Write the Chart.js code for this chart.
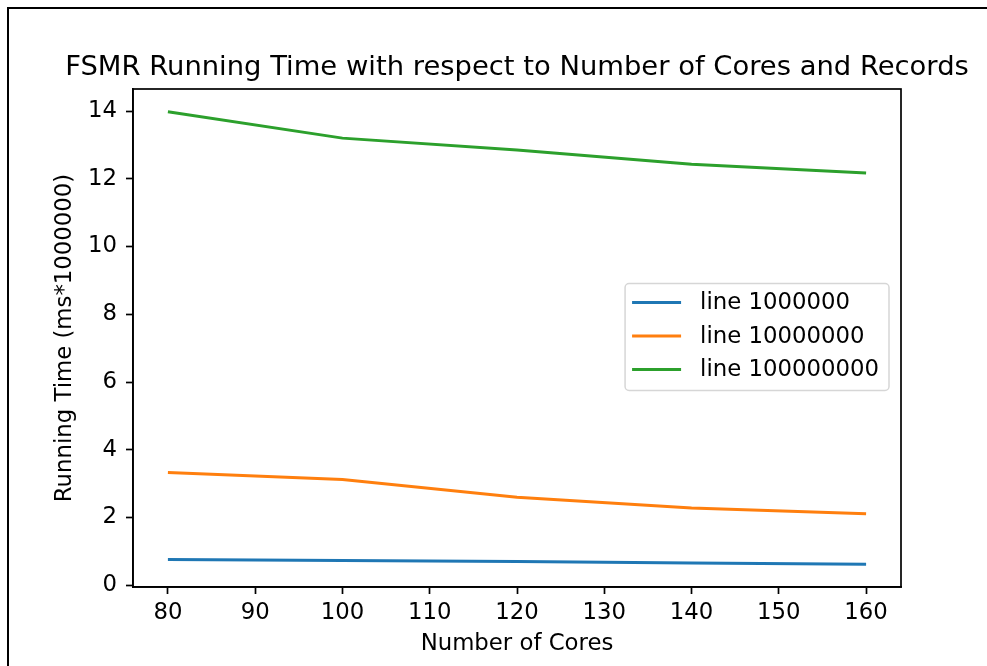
<!DOCTYPE html>
<html>
<head>
<meta charset="utf-8">
<script src="https://cdn.jsdelivr.net/npm/chart.js@4"></script>
<style>
  html, body { margin: 0; padding: 0; background: #fff; }
  #wrap { position: relative; width: 987px; height: 666px; overflow: hidden; }
  #frame { position: absolute; left: 7px; top: 7px; width: 1200px; height: 800px;
           border-left: 2px solid #000; border-top: 2px solid #000; }
  canvas { position: absolute; left: 0; top: 0; }
</style>
</head>
<body>
<div id="wrap">
  <div id="frame"></div>
  <canvas id="chart"></canvas>
</div>
<script>
// number of cores on x axis
const cores = [80, 100, 120, 140, 160];

// running time (ms*1000000) per record count
const time1M = [0.76, 0.73, 0.70, 0.66, 0.62];
const time10M = [3.33, 3.12, 2.60, 2.28, 2.11];
const time100M = [13.98, 13.20, 12.85, 12.43, 12.17];

const seriesLabels = ["line 1000000", "line 10000000", "line 100000000"];
const seriesColors = ["#1f77b4", "#ff7f0e", "#2ca02c"];

const xTicks = [80, 90, 100, 110, 120, 130, 140, 150, 160];
const yTicks = [0, 2, 4, 6, 8, 10, 12, 14];

const FONT = "'DejaVu Sans', sans-serif";
const LABEL_SIZE = 22.8;

// title centered over the plot area, like matplotlib
const titlePlugin = {
  id: "axesTitle",
  afterDraw(chart) {
    const { ctx, chartArea } = chart;
    ctx.save();
    ctx.font = "27.4px " + FONT;
    ctx.fillStyle = "#000";
    ctx.textAlign = "center";
    ctx.textBaseline = "alphabetic";
    ctx.fillText("FSMR Running Time with respect to Number of Cores and Records",
      (chartArea.left + chartArea.right) / 2, 75);
    ctx.restore();
  }
};

// box around plot area (top and right spines)
const framePlugin = {
  id: "axesFrame",
  afterDatasetsDraw(chart) {
    const { ctx, chartArea } = chart;
    ctx.save();
    ctx.strokeStyle = "#000";
    ctx.lineWidth = 1.7;
    ctx.strokeRect(chartArea.left, chartArea.top, chartArea.right - chartArea.left, chartArea.bottom - chartArea.top);
    ctx.restore();
  }
};

// matplotlib style legend at center right inside the axes
const legendPlugin = {
  id: "innerLegend",
  afterDraw(chart) {
    const { ctx, chartArea } = chart;
    ctx.save();
    ctx.font = LABEL_SIZE + "px " + FONT;
    const items = chart.data.datasets;
    let maxW = 0;
    items.forEach(ds => { maxW = Math.max(maxW, ctx.measureText(ds.label).width); });
    const rowH = 33.5;
    const w = 7 + 49 + 19 + maxW + 10;
    const h = 107;
    const right = chartArea.right - 12;
    const left = right - w;
    const top = (chartArea.top + chartArea.bottom) / 2 - h / 2 - 1;

    const r = 4;
    ctx.beginPath();
    ctx.moveTo(left + r, top);
    ctx.arcTo(left + w, top, left + w, top + h, r);
    ctx.arcTo(left + w, top + h, left, top + h, r);
    ctx.arcTo(left, top + h, left, top, r);
    ctx.arcTo(left, top, left + w, top, r);
    ctx.closePath();
    ctx.fillStyle = "rgba(255,255,255,0.8)";
    ctx.fill();
    ctx.strokeStyle = "#d6d6d6";
    ctx.lineWidth = 1.5;
    ctx.stroke();

    ctx.textAlign = "left";
    ctx.textBaseline = "middle";
    items.forEach((ds, i) => {
      const cy = top + 19 + i * rowH;
      ctx.strokeStyle = ds.borderColor;
      ctx.lineWidth = 3;
      ctx.beginPath();
      ctx.moveTo(left + 7, cy);
      ctx.lineTo(left + 56, cy);
      ctx.stroke();
      ctx.fillStyle = "#000";
      ctx.fillText(ds.label, left + 75, cy + 1);
    });
    ctx.restore();
  }
};

const seriesData = [time1M, time10M, time100M];

const chart = new Chart(document.getElementById("chart"), {
  type: "line",
  data: {
    datasets: seriesData.map((vals, i) => ({
      label: seriesLabels[i],
      data: cores.map((c, j) => ({ x: c, y: vals[j] })),
      borderColor: seriesColors[i],
      backgroundColor: seriesColors[i],
      borderWidth: 3,
      pointRadius: 0,
      tension: 0,
      fill: false
    }))
  },
  options: {
    responsive: true,
    maintainAspectRatio: false,
    animation: false,
    layout: { padding: { top: 89, right: 86, left: 0, bottom: 0 } },
    plugins: {
      legend: { display: false },
      title: { display: false },
      tooltip: { enabled: false }
    },
    scales: {
      x: {
        type: "linear",
        min: 76,
        max: 164,
        afterBuildTicks: (scale) => { scale.ticks = xTicks.map(v => ({ value: v })); },
        afterFit: (scale) => { scale.height = 79; },
        grid: { drawOnChartArea: false, tickLength: 7, tickWidth: 1.7, tickColor: "#000" },
        border: { display: true, color: "#000", width: 1.7 },
        ticks: { color: "#000", padding: 5, maxRotation: 0, font: { family: FONT, size: LABEL_SIZE } },
        title: {
          display: true,
          text: "Number of Cores",
          color: "#000",
          padding: { top: 0, bottom: 8 },
          font: { family: FONT, size: LABEL_SIZE }
        }
      },
      y: {
        type: "linear",
        min: -0.05,
        max: 14.65,
        afterBuildTicks: (scale) => { scale.ticks = yTicks.map(v => ({ value: v })); },
        afterFit: (scale) => { scale.width = 133; },
        grid: { drawOnChartArea: false, tickLength: 7, tickWidth: 1.7, tickColor: "#000" },
        border: { display: true, color: "#000", width: 1.7 },
        ticks: { color: "#000", padding: 9, font: { family: FONT, size: LABEL_SIZE } },
        title: {
          display: true,
          text: "Running Time (ms*1000000)",
          color: "#000",
          padding: { top: 51, bottom: 0 },
          font: { family: FONT, size: LABEL_SIZE }
        }
      }
    }
  },
  plugins: [framePlugin, legendPlugin, titlePlugin]
});
</script>
</body>
</html>
